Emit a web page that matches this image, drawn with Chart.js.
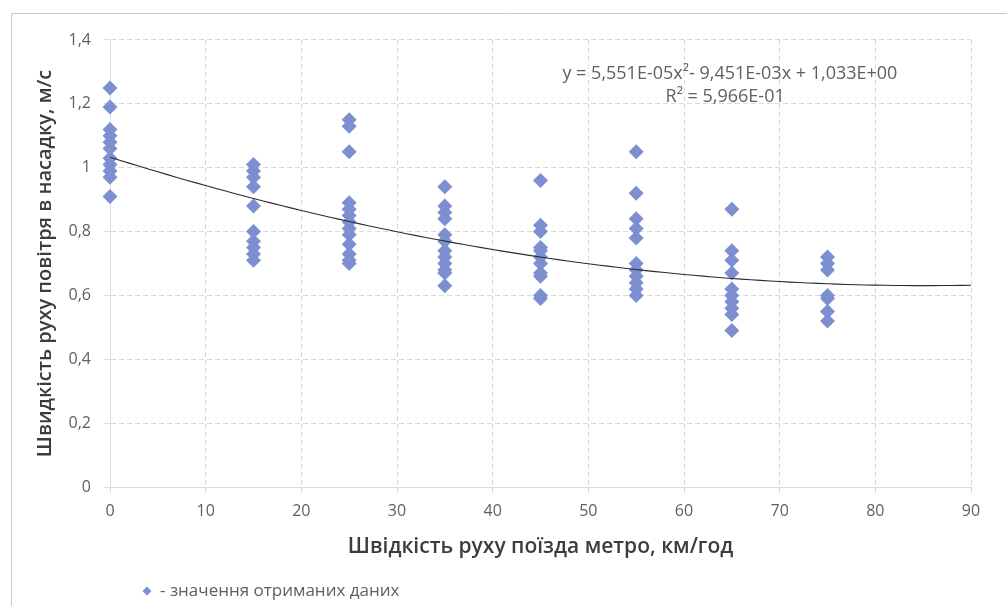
<!DOCTYPE html>
<html>
<head>
<meta charset="utf-8">
<script src="https://cdn.jsdelivr.net/npm/chart.js@4"></script>
<style>
  html, body { margin: 0; padding: 0; background: #ffffff; }
  #wrap { width: 1007px; height: 606px; position: relative; }
</style>
</head>
<body>
<div id="wrap"><canvas id="c" width="1007" height="606"></canvas></div>
<script>
// Train speed groups (km/h) and measured air speeds in the nozzle (m/s)
const speed0  = [1.25, 1.19, 1.12, 1.10, 1.08, 1.06, 1.03, 1.01, 0.99, 0.97, 0.91];
const speed15 = [1.01, 0.99, 0.97, 0.94, 0.88, 0.80, 0.77, 0.75, 0.73, 0.71];
const speed25 = [1.15, 1.13, 1.05, 0.89, 0.87, 0.85, 0.83, 0.81, 0.79, 0.76, 0.73, 0.71, 0.70];
const speed35 = [0.94, 0.88, 0.86, 0.84, 0.79, 0.77, 0.74, 0.72, 0.70, 0.68, 0.67, 0.63];
const speed45 = [0.96, 0.82, 0.80, 0.75, 0.74, 0.72, 0.70, 0.67, 0.66, 0.60, 0.59];
const speed55 = [1.05, 0.92, 0.84, 0.81, 0.78, 0.70, 0.68, 0.66, 0.64, 0.62, 0.60];
const speed65 = [0.87, 0.74, 0.71, 0.67, 0.62, 0.60, 0.58, 0.56, 0.54, 0.49];
const speed75 = [0.72, 0.70, 0.68, 0.60, 0.59, 0.55, 0.52];

const trainSpeeds = [0, 15, 25, 35, 45, 55, 65, 75];
const airSpeeds = [speed0, speed15, speed25, speed35, speed45, speed55, speed65, speed75];

// Second-order polynomial trend line, coefficients as printed on the chart
const trendCoef = [1.033, -9.451e-3, 5.551e-5]; // c0, c1, c2
const trendRange = [0, 90];

const xTicks = [0, 10, 20, 30, 40, 50, 60, 70, 80, 90];
const yTickLabels = ['0', '0,2', '0,4', '0,6', '0,8', '1', '1,2', '1,4'];

const equationText = 'y = 5,551E-05x\u00B2- 9,451E-03x + 1,033E+00';
const r2Text = 'R\u00B2 = 5,966E-01';
const legendText = '- значення отриманих даних';

const points = [];
trainSpeeds.forEach((s, i) => airSpeeds[i].forEach(v => points.push({ x: s, y: v })));

// sample the fitted polynomial once per km/h so the curve stays smooth
const trend = [];
for (let x = trendRange[0]; x <= trendRange[1]; x += 1) {
  trend.push({ x: x, y: trendCoef[0] + trendCoef[1] * x + trendCoef[2] * x * x });
}

const FONT = "'Open Sans', 'DejaVu Sans', sans-serif";
const MARK = '#7d8fd0';
const GRID = '#dadada';

const decorations = {
  id: 'decorations',
  beforeDraw(chart) {
    const ctx = chart.ctx;
    ctx.save();
    ctx.strokeStyle = '#c8c8c8';
    ctx.lineWidth = 1;
    ctx.beginPath();
    ctx.moveTo(11.5, 606);
    ctx.lineTo(11.5, 13.5);
    ctx.lineTo(1007, 13.5);
    ctx.stroke();
    ctx.restore();
  },
  afterDraw(chart) {
    const ctx = chart.ctx;
    const xs = chart.scales.x, ys = chart.scales.y;
    ctx.save();
    ctx.fillStyle = '#606060';
    ctx.textAlign = 'center';
    ctx.textBaseline = 'middle';
    ctx.font = "18px " + FONT;
    ctx.fillText(equationText, xs.getPixelForValue(64.8), ys.getPixelForValue(1.295));
    ctx.fillText(r2Text, xs.getPixelForValue(64.3), ys.getPixelForValue(1.222));
    // legend
    const lx = 147, ly = 591;
    ctx.fillStyle = MARK;
    ctx.beginPath();
    ctx.moveTo(lx, ly - 4.5);
    ctx.lineTo(lx + 4.5, ly);
    ctx.lineTo(lx, ly + 4.5);
    ctx.lineTo(lx - 4.5, ly);
    ctx.closePath();
    ctx.fill();
    ctx.fillStyle = '#606060';
    ctx.textAlign = 'left';
    ctx.font = "17px " + FONT;
    ctx.fillText(legendText, lx + 13, ly);
    ctx.restore();
  }
};

new Chart(document.getElementById('c'), {
  type: 'scatter',
  data: {
    datasets: [
      {
        label: 'trend',
        type: 'line',
        data: trend,
        borderColor: '#2b2b2b',
        borderWidth: 1.1,
        pointRadius: 0,
        tension: 0,
        fill: false,
        order: 0
      },
      {
        label: legendText,
        data: points,
        pointStyle: 'rectRot',
        pointRadius: 7.5,
        backgroundColor: MARK,
        borderColor: MARK,
        borderWidth: 0,
        clip: false,
        order: 1
      }
    ]
  },
  options: {
    responsive: false,
    animation: false,
    layout: { padding: { left: 12, right: 36, top: 40, bottom: 0 } },
    plugins: {
      legend: { display: false },
      tooltip: { enabled: false }
    },
    scales: {
      x: {
        type: 'linear',
        min: 0, max: 90,
        afterBuildTicks(scale) { scale.ticks = xTicks.map(v => ({ value: v })); },
        afterFit(scale) { scale.height = 606 - 487; },
        grid: { color: GRID, tickLength: 6, tickColor: GRID },
        border: { display: true, color: GRID, dash: [5, 3] },
        ticks: { color: '#606060', font: { family: FONT, size: 16 }, padding: 9, maxRotation: 0 },
        title: {
          display: true,
          text: 'Швідкість руху поїзда метро, км/год',
          color: '#3c3c3c',
          font: { family: FONT, size: 21, weight: '600' },
          padding: { top: 0, bottom: 46 }
        }
      },
      y: {
        type: 'linear',
        min: 0, max: 1.4,
        afterBuildTicks(scale) { scale.ticks = yTickLabels.map((t, i) => ({ value: i * 0.2 })); },
        afterFit(scale) { scale.width = 110 - 12; },
        grid: { color: GRID, tickLength: 6, tickColor: GRID },
        border: { display: true, color: GRID, dash: [5, 3] },
        ticks: {
          color: '#606060',
          font: { family: FONT, size: 16 },
          padding: 13,
          callback: (v, i) => yTickLabels[i]
        },
        title: {
          display: true,
          text: 'Швидкість руху повітря в насадку, м/с',
          color: '#3c3c3c',
          font: { family: FONT, size: 20, weight: '600' },
          padding: { top: 21, bottom: 0 }
        }
      }
    }
  },
  plugins: [decorations]
});
</script>
</body>
</html>
